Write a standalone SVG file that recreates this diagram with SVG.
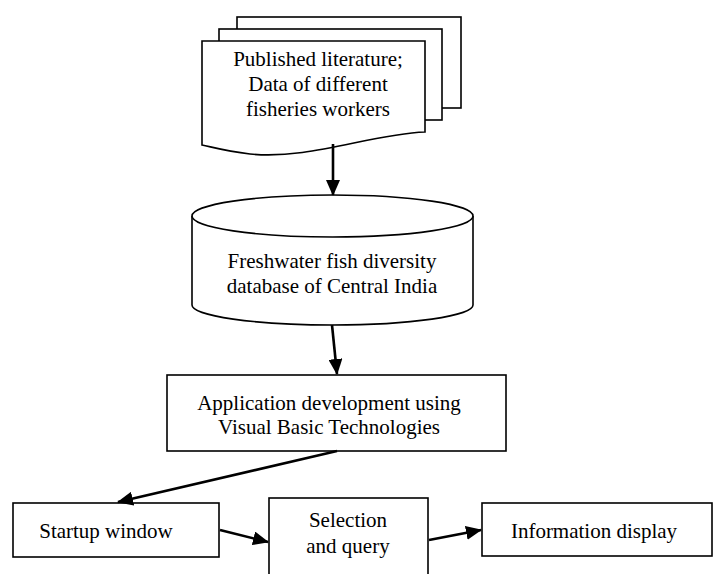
<svg xmlns="http://www.w3.org/2000/svg" width="714" height="574" viewBox="0 0 714 574">
<style>
.shape{fill:#fff;stroke:#000;stroke-width:1.6}
.conn{fill:none;stroke:#000;stroke-width:2.6}
text{font-family:"Liberation Serif","Times New Roman",serif;font-size:21px;fill:#000;text-anchor:middle}
</style>
<defs>
<marker id="arrow" markerUnits="userSpaceOnUse" markerWidth="16" markerHeight="14" refX="15" refY="7" orient="auto">
<path d="M0,0 L16,7 L0,14 Z" fill="#000"/>
</marker>
</defs>
<rect width="714" height="574" fill="#fff"/>
<g id="node-literature">
<rect class="shape" x="237" y="17" width="224" height="91"/>
<rect class="shape" x="219" y="29" width="223" height="91"/>
<path class="shape" d="M202,41 H425 V132 C370,134 310,160 250,154 C225,151 212,147 202,145 Z"/>
<text x="318" y="66">Published literature;</text>
<text x="318" y="91">Data of different</text>
<text x="318" y="116">fisheries workers</text>
</g>
<g id="node-database">
<path class="shape" d="M192,216 V305 A140.5,20 0 0 0 473,305 V216"/>
<ellipse class="shape" cx="332.5" cy="216" rx="140.5" ry="21"/>
<text x="332" y="268">Freshwater fish diversity</text>
<text x="332" y="293">database of Central India</text>
</g>
<g id="node-application">
<rect class="shape" x="167" y="375" width="339" height="76"/>
<text x="329" y="410">Application development using</text>
<text x="329" y="434">Visual Basic Technologies</text>
</g>
<g id="node-startup">
<rect class="shape" x="13" y="503" width="206" height="54"/>
<text x="106" y="538">Startup window</text>
</g>
<g id="node-selection">
<rect class="shape" x="269" y="498" width="159" height="90"/>
<text x="348" y="527">Selection</text>
<text x="348" y="553">and query</text>
</g>
<g id="node-information">
<rect class="shape" x="482" y="503" width="230" height="53"/>
<text x="594" y="538">Information display</text>
</g>
<g id="connectors">
<line class="conn" x1="333" y1="144" x2="333" y2="195" marker-end="url(#arrow)"/>
<line class="conn" x1="332" y1="325" x2="337" y2="374" marker-end="url(#arrow)"/>
<line class="conn" x1="337" y1="451" x2="118" y2="502" marker-end="url(#arrow)"/>
<line class="conn" x1="220" y1="530" x2="268" y2="542" marker-end="url(#arrow)"/>
<line class="conn" x1="429" y1="540" x2="481" y2="530" marker-end="url(#arrow)"/>
</g>
</svg>
